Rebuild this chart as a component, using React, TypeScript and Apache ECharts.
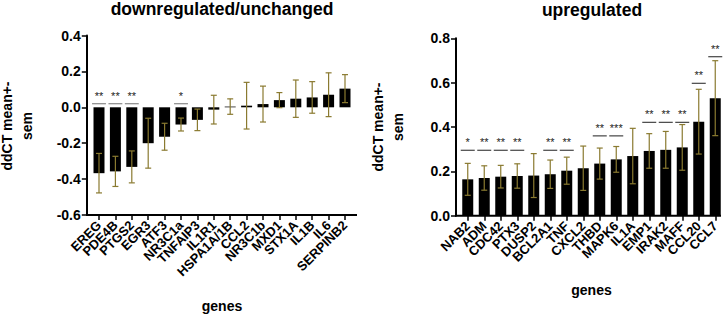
import React, { useEffect, useRef } from "react";
import * as echarts from "echarts";

const leftGenes = ["EREG", "PDE4B", "PTGS2", "EGR3", "ATF3", "NR3C1a", "TNFAIP3", "IL1R1", "HSPA1A/1B", "CCL2", "NR3C1b", "MXD1", "STX1A", "IL1B", "IL6", "SERPINB2"];
const leftMean = [-0.367, -0.357, -0.332, -0.2, -0.164, -0.096, -0.07, -0.013, 0.004, 0.009, 0.018, 0.04, 0.048, 0.055, 0.07, 0.104];
const leftSem = [0.11, 0.084, 0.089, 0.139, 0.075, 0.036, 0.06, 0.08, 0.043, 0.13, 0.1, 0.042, 0.104, 0.088, 0.122, 0.078];
const leftSig = ["**", "**", "**", "", "", "*", "", "", "", "", "", "", "", "", "", ""];
const leftSigLevel = [0.02, 0.02, 0.02, 0, 0, 0.02, 0, 0, 0, 0, 0, 0, 0, 0, 0, 0];

const rightGenes = ["NAB2", "ADM", "CDC42", "PTX3", "DUSP2", "BCL2A1", "TNF", "CXCL2", "THBD", "MAPK6", "IL1A", "EMP1", "IRAK2", "MAFF", "CCL20", "CCL7"];
const rightMean = [0.164, 0.17, 0.176, 0.179, 0.181, 0.187, 0.203, 0.214, 0.235, 0.254, 0.269, 0.292, 0.297, 0.308, 0.424, 0.53];
const rightSem = [0.072, 0.055, 0.051, 0.055, 0.099, 0.064, 0.061, 0.1, 0.07, 0.058, 0.125, 0.078, 0.083, 0.103, 0.146, 0.169];
const rightSig = ["*", "**", "**", "**", "", "**", "**", "", "**", "***", "", "**", "**", "**", "**", "**"];
const rightSigLevel = [0.295, 0.295, 0.295, 0.295, 0, 0.295, 0.295, 0, 0.36, 0.36, 0, 0.421, 0.421, 0.421, 0.597, 0.717];

const FONT = "'Liberation Sans', Arial, sans-serif";
const ERR_COLOR = "#8a7a30";

function errData(mean: number[], sem: number[]) {
  return mean.map((m, i) => [i, m - sem[i], m + sem[i]]);
}

function sigData(sig: string[], level: number[]) {
  const out: number[][] = [];
  sig.forEach((s, i) => {
    if (s) out.push([i, level[i]]);
  });
  return out;
}

function errRender(params: any, api: any) {
  const i = api.value(0);
  const lo = api.coord([i, api.value(1)]);
  const hi = api.coord([i, api.value(2)]);
  const c = 3;
  const st = { stroke: ERR_COLOR, lineWidth: 1.2 };
  return {
    type: "group",
    children: [
      { type: "line", shape: { x1: lo[0], y1: lo[1], x2: hi[0], y2: hi[1] }, style: st },
      { type: "line", shape: { x1: lo[0] - c, y1: lo[1], x2: lo[0] + c, y2: lo[1] }, style: st },
      { type: "line", shape: { x1: hi[0] - c, y1: hi[1], x2: hi[0] + c, y2: hi[1] }, style: st },
    ],
  };
}

function makeSigRender(sig: string[], lineColor: string) {
  return (params: any, api: any) => {
    const i = api.value(0);
    const p = api.coord([i, api.value(1)]);
    const w = api.size([1, 0])[0] - 2.5;
    return {
      type: "group",
      children: [
        { type: "line", shape: { x1: p[0] - w / 2, y1: p[1], x2: p[0] + w / 2, y2: p[1] }, style: { stroke: lineColor, lineWidth: 1.2 } },
        { type: "text", x: p[0], y: p[1] - 8, style: { text: sig[i], align: "center", verticalAlign: "middle", fill: "#222", stroke: "none", fontSize: 11, fontFamily: FONT } },
      ],
    };
  };
}

export default function App() {
  const ref = useRef<HTMLDivElement>(null);
  useEffect(() => {
    if (!ref.current) return;
    const chart = echarts.init(ref.current, undefined, { renderer: "svg" });
    const axisLabel = { color: "#000", fontWeight: "bold" as const, fontSize: 14, fontFamily: FONT, margin: 6 };
    const xLabel = { color: "#000", fontWeight: "bold" as const, fontSize: 13, fontFamily: FONT, rotate: 45, margin: 8, interval: 0 };
    const axisLine = { show: true, lineStyle: { color: "#000", width: 2 } };
    const axisTick = { show: true, length: 5, lineStyle: { color: "#000", width: 1.5 } };
    const xName = { color: "#000", fontWeight: "bold" as const, fontSize: 14, fontFamily: FONT };
    chart.setOption({
      animation: false,
      backgroundColor: "#fff",
      grid: [
        { left: 90.8, top: 35.5, width: 262.4, height: 179.5, outerBoundsMode: "none", containLabel: false },
        { left: 459.5, top: 38.3, width: 264, height: 177.4, outerBoundsMode: "none", containLabel: false },
      ],
      xAxis: [
        {
          type: "category", gridIndex: 0, data: leftGenes, boundaryGap: true, position: "bottom",
          axisLine: { show: false, onZero: false }, axisTick: { ...axisTick, alignWithLabel: true }, axisLabel: xLabel,
          name: "genes", nameLocation: "middle", nameGap: 84, nameTextStyle: xName,
        },
        {
          type: "category", gridIndex: 1, data: rightGenes, boundaryGap: true, position: "bottom",
          axisLine: { show: false, onZero: false }, axisTick: { ...axisTick, alignWithLabel: true }, axisLabel: xLabel,
          name: "genes", nameLocation: "middle", nameGap: 67, nameTextStyle: xName,
        },
      ],
      yAxis: [
        {
          type: "value", gridIndex: 0, min: -0.6, max: 0.4, interval: 0.2, offset: 4,
          axisLine, axisTick, splitLine: { show: false },
          axisLabel: { ...axisLabel, formatter: (v: number) => v.toFixed(1) },
        },
        {
          type: "value", gridIndex: 1, min: 0, max: 0.8, interval: 0.2, offset: 3.5,
          axisLine, axisTick, splitLine: { show: false },
          axisLabel: { ...axisLabel, formatter: (v: number) => v.toFixed(1) },
        },
      ],
      graphic: [
        { type: "line", shape: { x1: 86, y1: 215, x2: 357, y2: 215 }, style: { stroke: "#000", lineWidth: 2 }, z: 10 },
        { type: "line", shape: { x1: 455, y1: 215.7, x2: 721, y2: 215.7 }, style: { stroke: "#000", lineWidth: 2 }, z: 10 },
        { type: "text", x: 222, y: 9, style: { text: "downregulated/unchanged", textAlign: "center", textVerticalAlign: "middle", fill: "#000", font: `bold 17.5px ${FONT}` } },
        { type: "text", x: 592, y: 10, style: { text: "upregulated", textAlign: "center", textVerticalAlign: "middle", fill: "#000", font: `bold 17.5px ${FONT}` } },
        { type: "text", x: 17, y: 126, rotation: Math.PI / 2, style: { text: "ddCT mean+-\nsem", textAlign: "center", textVerticalAlign: "middle", fill: "#000", font: `bold 14px ${FONT}`, lineHeight: 20 } },
        { type: "text", x: 388, y: 127, rotation: Math.PI / 2, style: { text: "ddCT mean+-\nsem", textAlign: "center", textVerticalAlign: "middle", fill: "#000", font: `bold 14px ${FONT}`, lineHeight: 20 } },
      ],
      series: [
        { type: "bar", xAxisIndex: 0, yAxisIndex: 0, data: leftMean, barWidth: 11, itemStyle: { color: "#000" } },
        { type: "bar", xAxisIndex: 1, yAxisIndex: 1, data: rightMean, barWidth: 11, itemStyle: { color: "#000" } },
        { type: "custom", xAxisIndex: 0, yAxisIndex: 0, data: errData(leftMean, leftSem), renderItem: errRender, encode: { x: 0, y: [1, 2] }, itemStyle: { color: ERR_COLOR }, z: 5 },
        { type: "custom", xAxisIndex: 1, yAxisIndex: 1, data: errData(rightMean, rightSem), renderItem: errRender, encode: { x: 0, y: [1, 2] }, itemStyle: { color: ERR_COLOR }, z: 5 },
        { type: "custom", xAxisIndex: 0, yAxisIndex: 0, data: sigData(leftSig, leftSigLevel), renderItem: makeSigRender(leftSig, "#888"), encode: { x: 0, y: 1 }, itemStyle: { color: "#222" }, z: 6 },
        { type: "custom", xAxisIndex: 1, yAxisIndex: 1, data: sigData(rightSig, rightSigLevel), renderItem: makeSigRender(rightSig, "#444"), encode: { x: 0, y: 1 }, itemStyle: { color: "#222" }, z: 6 },
      ],
    });
    return () => chart.dispose();
  }, []);
  return <div ref={ref} style={{ position: "fixed", left: 0, top: 0, width: 727, height: 315 }} />;
}
